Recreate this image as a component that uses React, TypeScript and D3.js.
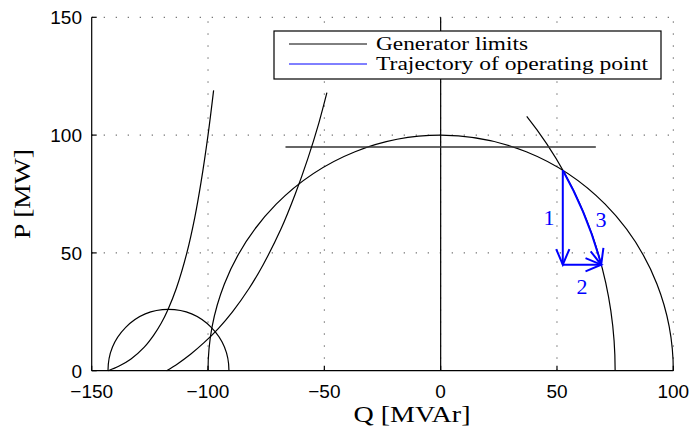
import React from "react";
import * as d3 from "d3";

// ---- data ----
const Q_TICKS = [-150, -100, -50, 0, 50, 100];
const P_TICKS = [0, 50, 100, 150];
const Q_DOMAIN = [-150, 100];
const P_DOMAIN = [0, 150];

// stator current limit: circle centred at origin
const statorRadius = 100;
// rotor (field current) limit: circle centred on the Q axis
const rotorCenterQ = -97;
const rotorRadius = 172;
const rotorArcEnd = [37, 108]; // upper end of drawn arc
// small circle
const smallCircleCenterQ = -117;
const smallCircleRadius = 26;
// turbine limit
const turbineP = 95;
const turbineQ = [-66.7, 66.7];
// stability limit curves [Q, P]
const stabilityA: [number, number][] = [
  [-142.9, 0], [-138.2, 2], [-133.1, 5], [-127.4, 10], [-123.4, 15],
  [-120.2, 20], [-117.2, 26], [-113.6, 35], [-109.1, 50], [-105.7, 65],
  [-103.0, 80], [-100.0, 100], [-97.6, 119],
];
const stabilityB: [number, number][] = [
  [-117.8, 0], [-113.0, 3], [-107.5, 7], [-101.6, 12], [-95.5, 18],
  [-89.5, 25], [-82.3, 35], [-76.3, 45], [-68.7, 60], [-62.5, 75],
  [-57.1, 90], [-52.4, 105], [-48.9, 118],
];
// trajectory of operating point
const opPoint = [52.5, 85.1];
const point1 = [52.5, 45];
const point2 = [69, 45];
const stepLabels = ["1", "2", "3"];
const legendItems = ["Generator limits", "Trajectory of operating point"];

const W = 693;
const H = 436;
const M = { left: 91.7, right: 673.3, top: 17.3, bottom: 370.7 };

export default function App() {
  const x = d3.scaleLinear().domain(Q_DOMAIN).range([M.left, M.right]);
  const y = d3.scaleLinear().domain(P_DOMAIN).range([M.bottom, M.top]);
  const rx = (r: number) => x(r) - x(0);
  const ry = (r: number) => y(0) - y(r);

  const statorPath = `M${x(-statorRadius)},${y(0)} A${rx(statorRadius)},${ry(statorRadius)} 0 0 1 ${x(statorRadius)},${y(0)}`;
  const smallPath = `M${x(smallCircleCenterQ - smallCircleRadius)},${y(0)} A${rx(smallCircleRadius)},${ry(smallCircleRadius)} 0 0 1 ${x(smallCircleCenterQ + smallCircleRadius)},${y(0)}`;
  const rotorPath = `M${x(rotorCenterQ + rotorRadius)},${y(0)} A${rx(rotorRadius)},${ry(rotorRadius)} 0 0 0 ${x(rotorArcEnd[0])},${y(rotorArcEnd[1])}`;
  const line = d3
    .line<[number, number]>()
    .x((d) => x(d[0]))
    .y((d) => y(d[1]))
    .curve(d3.curveCatmullRom.alpha(0.5));
  const arc3 = `M${x(opPoint[0])},${y(opPoint[1])} A${rx(rotorRadius)},${ry(rotorRadius)} 0 0 1 ${x(point2[0])},${y(point2[1])}`;

  const blue = "#0000ff";
  const head = (tx: number, ty: number, ang: number) => {
    const L = 17, a = 0.4;
    const p1 = [tx - L * Math.cos(ang - a), ty - L * Math.sin(ang - a)];
    const p2 = [tx - L * Math.cos(ang + a), ty - L * Math.sin(ang + a)];
    return `M${p1[0]},${p1[1]} L${tx},${ty} L${p2[0]},${p2[1]}`;
  };
  const cx = x(rotorCenterQ), cy = y(0);
  const px2 = x(point2[0]), py2 = y(point2[1]);
  const radAng = Math.atan2(py2 - cy, px2 - cx);
  const tanAng = radAng + Math.PI / 2;

  const sans = "'Liberation Sans', Arial, Helvetica, sans-serif";
  const serif = "'Liberation Serif', 'Times New Roman', serif";
  const gridColor = "#555";

  return (
    <svg width={W} height={H} style={{ position: "absolute", left: 0, top: 0, background: "#fff" }}>
      {/* grid */}
      <g stroke={gridColor} strokeWidth={1} strokeDasharray="1.3 10.7">
        {Q_TICKS.filter((t) => t > Q_DOMAIN[0]).map((t) => (
          <line key={"gx" + t} x1={x(t)} x2={x(t)} y1={y(0)} y2={y(150)} />
        ))}
        {P_TICKS.filter((t) => t > 0).map((t) => (
          <line key={"gy" + t} x1={x(-150)} x2={x(100)} y1={y(t)} y2={y(t)} />
        ))}
      </g>
      {/* generator limits */}
      <g fill="none" stroke="#000" strokeWidth={1.2}>
        <line x1={x(0)} x2={x(0)} y1={y(0)} y2={y(150)} />
        <path d={statorPath} />
        <path d={smallPath} />
        <path d={rotorPath} />
        <line x1={x(turbineQ[0])} x2={x(turbineQ[1])} y1={y(turbineP)} y2={y(turbineP)} strokeWidth={1.5} stroke="#333" />
        <path d={line(stabilityA) || ""} />
        <path d={line(stabilityB) || ""} />
      </g>
      {/* trajectory */}
      <g fill="none" stroke={blue} strokeWidth={2}>
        <line x1={x(opPoint[0])} y1={y(opPoint[1])} x2={x(point1[0])} y2={y(point1[1])} />
        <path d={head(x(point1[0]), y(point1[1]), Math.PI / 2)} />
        <line x1={x(point1[0])} y1={y(point1[1])} x2={x(point2[0])} y2={y(point2[1])} />
        <path d={head(x(point2[0]), y(point2[1]), 0)} />
        <path d={arc3} />
        <path d={head(px2, py2, tanAng)} />
      </g>
      <g fill={blue} fontFamily={serif} fontSize={22}>
        <text x={549} y={225} textAnchor="middle">{stepLabels[0]}</text>
        <text x={582} y={294} textAnchor="middle">{stepLabels[1]}</text>
        <text x={601} y={227} textAnchor="middle">{stepLabels[2]}</text>
      </g>
      {/* axes */}
      <g stroke="#000" strokeWidth={1.2} fill="none">
        <line x1={M.left} x2={M.left} y1={M.top} y2={M.bottom} />
        <line x1={M.left} x2={M.right} y1={M.bottom} y2={M.bottom} />
        {Q_TICKS.map((t) => (
          <line key={"tx" + t} x1={x(t)} x2={x(t)} y1={M.bottom} y2={M.bottom - 5} />
        ))}
        {P_TICKS.map((t) => (
          <line key={"ty" + t} x1={M.left} x2={M.left + 5} y1={y(t)} y2={y(t)} />
        ))}
      </g>
      <g fontFamily={sans} fontSize={19} fill="#000">
        {Q_TICKS.map((t) => (
          <text key={"lx" + t} x={x(t)} y={398} textAnchor="middle">
            {t < 0 ? "\u2212" + Math.abs(t) : String(t)}
          </text>
        ))}
        {P_TICKS.map((t) => (
          <text key={"ly" + t} x={82} y={y(t) + 7} textAnchor="end">
            {t}
          </text>
        ))}
      </g>
      <text x={412} y={422} textAnchor="middle" fontFamily={serif} fontSize={23} textLength={117} lengthAdjust="spacingAndGlyphs">
        Q [MVAr]
      </text>
      <text transform={`translate(30,${(M.top + M.bottom) / 2}) rotate(-90)`} textAnchor="middle" fontFamily={serif} fontSize={23} textLength={90} lengthAdjust="spacingAndGlyphs">
        P [MW]
      </text>
      {/* legend */}
      <g>
        <rect x={274} y={31} width={387} height={48} fill="#fff" stroke="#000" strokeWidth={1.2} />
        <line x1={289} x2={367} y1={44} y2={44} stroke="#000" strokeWidth={1} />
        <line x1={289} x2={367} y1={64} y2={64} stroke={blue} strokeWidth={1} />
        <text x={376} y={50} fontFamily={serif} fontSize={19.5} textLength={152} lengthAdjust="spacingAndGlyphs">{legendItems[0]}</text>
        <text x={376} y={70} fontFamily={serif} fontSize={19.5} textLength={272} lengthAdjust="spacingAndGlyphs">{legendItems[1]}</text>
      </g>
    </svg>
  );
}
